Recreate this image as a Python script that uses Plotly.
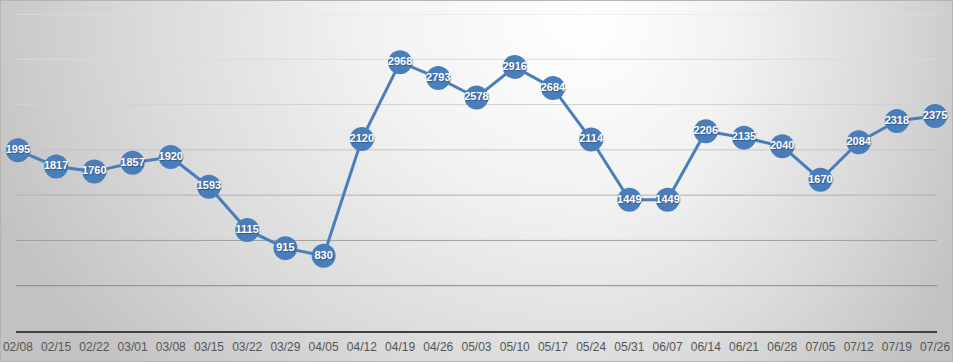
import plotly.graph_objects as go
import urllib.parse

weeks = ["02/08", "02/15", "02/22", "03/01", "03/08", "03/15", "03/22", "03/29", "04/05",
         "04/12", "04/19", "04/26", "05/03", "05/10", "05/17", "05/24", "05/31", "06/07",
         "06/14", "06/21", "06/28", "07/05", "07/12", "07/19", "07/26"]
values = [1995, 1817, 1760, 1857, 1920, 1593, 1115, 915, 830,
          2120, 2968, 2793, 2578, 2916, 2684, 2114, 1449, 1449,
          2206, 2135, 2040, 1670, 2084, 2318, 2375]
grid_values = [500, 1000, 1500, 2000, 2500, 3000, 3500]
grid_colors = ["#8a8a8a", "#9e9e9e", "#b2b2b2", "#c4c4c4", "#d2d2d2", "#dadada", "#e2e2e2"]

W, H = 953, 362
L, R, T, B = 16, 16, 14, 31
PW, PH = W - L - R, H - T - B

BLUE = "#4a7ebb"

stops = ("<stop offset='0' stop-color='#ffffff'/>"
         "<stop offset='0.35' stop-color='#f2f2f2'/>"
         "<stop offset='0.7' stop-color='#dadada'/>"
         "<stop offset='1' stop-color='#c2c2c2'/>")
svg = (
    "<svg xmlns='http://www.w3.org/2000/svg' width='953' height='362' viewBox='0 0 953 362' preserveAspectRatio='none'>"
    "<defs>"
    "<radialGradient id='gl' gradientUnits='userSpaceOnUse' cx='0' cy='0' r='1' "
    "gradientTransform='translate(590 20) scale(640 520)'>" + stops + "</radialGradient>"
    "<radialGradient id='gr' gradientUnits='userSpaceOnUse' cx='0' cy='0' r='1' "
    "gradientTransform='translate(590 20) scale(420 520)'>" + stops + "</radialGradient>"
    "</defs>"
    "<rect x='0' y='0' width='590.5' height='362' fill='url(#gl)'/>"
    "<rect x='590' y='0' width='363' height='362' fill='url(#gr)'/></svg>"
)
src = "data:image/svg+xml;charset=utf-8," + urllib.parse.quote(svg)

fig = go.Figure()
fig.add_trace(go.Scatter(
    x=weeks, y=values,
    mode="lines+markers+text",
    line=dict(color=BLUE, width=3),
    marker=dict(color=BLUE, size=24, line=dict(width=0)),
    text=[str(v) for v in values],
    textposition="middle center",
    textfont=dict(color="white", size=11, family="Liberation Sans, Arial, sans-serif",
                  weight="bold", shadow="1px 1px 1px rgba(0,0,0,0.3)"),
    cliponaxis=False,
    hoverinfo="x+y",
))

shapes = []
for gv, gc in zip(grid_values, grid_colors):
    shapes.append(dict(type="line", xref="paper", yref="y", x0=0, x1=1, y0=gv, y1=gv,
                       line=dict(color=gc, width=1), layer="below"))
shapes.append(dict(type="rect", xref="paper", yref="paper",
                   x0=-L / PW + 0.5 / PW, x1=1 + R / PW - 0.5 / PW,
                   y0=-B / PH + 0.5 / PH, y1=1 + T / PH - 0.5 / PH,
                   line=dict(color="#b4b4b4", width=1), layer="below"))

fig.update_layout(
    width=W, height=H,
    margin=dict(l=L, r=R, t=T, b=B, pad=0, autoexpand=False),
    paper_bgcolor="white",
    plot_bgcolor="rgba(0,0,0,0)",
    showlegend=False,
    shapes=shapes,
    images=[dict(source=src, xref="paper", yref="paper",
                 x=-L / PW, y=1 + T / PH, sizex=W / PW, sizey=H / PH,
                 sizing="stretch", xanchor="left", yanchor="top", layer="below")],
    xaxis=dict(type="category", range=[-0.05, 24.05], showgrid=False, zeroline=False,
               showline=True, linecolor="#404040", linewidth=2, ticks="",
               automargin=False,
               tickfont=dict(family="Liberation Sans, Arial, sans-serif", size=12, color="#555555"),
               ticklabelstandoff=4, fixedrange=True),
    yaxis=dict(range=[0, 3500], showgrid=False, zeroline=False, showticklabels=False,
               showline=False, ticks="", fixedrange=True, automargin=False),
)

fig.write_html("out.html", config={"displayModeBar": False},
               post_script="document.body.style.margin='0';document.body.style.overflow='hidden';")
